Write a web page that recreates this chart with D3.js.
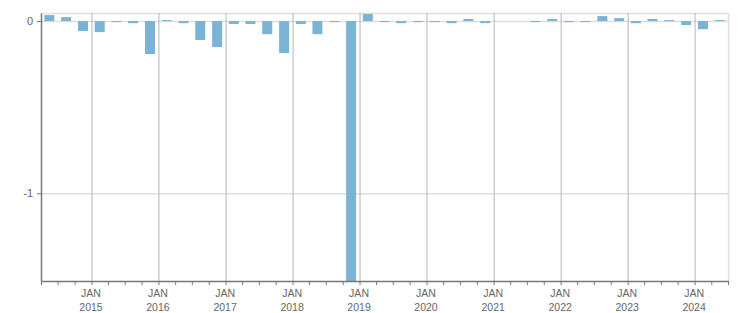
<!DOCTYPE html>
<html>
<head>
<meta charset="utf-8">
<script src="https://cdn.jsdelivr.net/npm/d3@7"></script>
<style>
  html, body { margin: 0; padding: 0; background: #fff; }
  svg { display: block; }
  text { font-family: Tahoma, "Liberation Sans", Arial, sans-serif; }
</style>
</head>
<body>
<svg id="chart" width="751" height="313"></svg>
<script>
// ---- data ----
const quarterStarts = [
  "2014-04","2014-07","2014-10",
  "2015-01","2015-04","2015-07","2015-10",
  "2016-01","2016-04","2016-07","2016-10",
  "2017-01","2017-04","2017-07","2017-10",
  "2018-01","2018-04","2018-07","2018-10",
  "2019-01","2019-04","2019-07","2019-10",
  "2020-01","2020-04","2020-07","2020-10",
  "2021-01","2021-04","2021-07","2021-10",
  "2022-01","2022-04","2022-07","2022-10",
  "2023-01","2023-04","2023-07","2023-10",
  "2024-01","2024-04"
];
const values = [
  0.035, 0.023, -0.058,
  -0.064, -0.004, -0.012, -0.192,
  0.006, -0.012, -0.110, -0.151,
  -0.017, -0.017, -0.076, -0.186,
  -0.017, -0.076, -0.004, -1.60,
  0.041, -0.004, -0.012, -0.005,
  -0.004, -0.012, 0.012, -0.012,
  0, 0, -0.004, 0.012,
  -0.004, -0.004, 0.029, 0.017,
  -0.012, 0.012, 0.006, -0.023,
  -0.047, 0.006
];
const yTickValues = [0, -1];
const yTickLabels = ["0", "-1"];
const yearTickLabels = ["2015","2016","2017","2018","2019","2020","2021","2022","2023","2024"];
const monthLabel = "JAN";

// ---- layout ----
const svg = d3.select("#chart");
const mLeft = 41, mRight = 728, mTop = 13, mBottom = 281;
const parse = d3.timeParse("%Y-%m");
const x = d3.scaleTime()
  .domain([new Date(2014, 3, 1), new Date(2024, 6, 1)])
  .range([mLeft, mRight]);
const y = d3.scaleLinear().domain([-1.51, 0.047]).range([mBottom, mTop]);

const textColor = "#666";
const axisColor = "#777";

// clip
svg.append("defs").append("clipPath").attr("id", "plot")
  .append("rect").attr("x", mLeft).attr("y", mTop).attr("width", mRight - mLeft).attr("height", mBottom - mTop);

// horizontal gridlines
svg.append("g")
  .attr("transform", `translate(${mLeft},0)`)
  .call(d3.axisLeft(y).tickValues(yTickValues).tickSize(-(mRight - mLeft)).tickFormat(""))
  .call(g => g.select(".domain").remove())
  .call(g => g.selectAll("line").attr("stroke", "#dedede").attr("stroke-width", 1.5));

// top border & right border
svg.append("line").attr("x1", mLeft).attr("x2", mRight).attr("y1", mTop + 0.5).attr("y2", mTop + 0.5)
  .attr("stroke", "#dedede").attr("stroke-width", 1.5);
svg.append("line").attr("x1", mRight + 0.5).attr("x2", mRight + 0.5).attr("y1", mTop).attr("y2", mBottom)
  .attr("stroke", "#dedede").attr("stroke-width", 1.5);

// vertical year gridlines
const yearDates = yearTickLabels.map(yy => new Date(+yy, 0, 1));
svg.append("g")
  .attr("transform", `translate(0,${mBottom})`)
  .call(d3.axisBottom(x).tickValues(yearDates).tickSize(-(mBottom - mTop)).tickFormat(""))
  .call(g => g.select(".domain").remove())
  .call(g => g.selectAll("line").attr("stroke", "#b5b5b5").attr("stroke-width", 1));

// bars
const qStart = quarterStarts.map(parse);
const barW = 10;
svg.append("g").attr("clip-path", "url(#plot)")
  .selectAll("rect").data(values).join("rect")
  .attr("x", (d, i) => {
    const s = qStart[i], e = d3.timeMonth.offset(s, 3);
    return (x(s) + x(e)) / 2 - barW / 2;
  })
  .attr("width", barW)
  .attr("y", d => y(Math.max(0, d)))
  .attr("height", d => d === 0 ? 0 : Math.max(1, Math.abs(y(d) - y(0))))
  .attr("fill", "#7bb3d5");

// bottom axis with quarterly minor ticks
const quarterTicks = d3.timeMonth.every(3).range(new Date(2014, 3, 1), new Date(2024, 6, 2));
svg.append("g")
  .attr("transform", `translate(0,${mBottom})`)
  .call(d3.axisBottom(x).tickValues(quarterTicks).tickSize(4).tickSizeOuter(0).tickFormat(""))
  .call(g => g.select(".domain").attr("stroke", axisColor).attr("stroke-width", 1.5))
  .call(g => g.selectAll(".tick line").attr("stroke", axisColor));

// year labels
const labelAxis = svg.append("g")
  .attr("transform", `translate(0,${mBottom})`)
  .call(d3.axisBottom(x).tickValues(yearDates).tickSize(0).tickFormat(""));
labelAxis.select(".domain").remove();
labelAxis.selectAll(".tick").each(function(d, i) {
  const t = d3.select(this).append("text")
    .attr("fill", textColor).attr("font-size", "10.5px").attr("text-anchor", "middle");
  t.append("tspan").attr("x", -1).attr("y", 16).text(monthLabel);
  t.append("tspan").attr("x", -1).attr("y", 30).text(yearTickLabels[i]);
});

// left axis
svg.append("g")
  .attr("transform", `translate(${mLeft},0)`)
  .call(d3.axisLeft(y).tickValues(yTickValues).tickSize(4).tickSizeOuter(0).tickPadding(4)
    .tickFormat((d, i) => yTickLabels[i]))
  .call(g => g.select(".domain").attr("stroke", axisColor).attr("stroke-width", 1.5))
  .call(g => g.selectAll(".tick line").attr("stroke", axisColor))
  .call(g => g.selectAll(".tick text").attr("fill", textColor).attr("font-size", "11px")
    .attr("font-family", "Tahoma, 'Liberation Sans', Arial, sans-serif"));
</script>
</body>
</html>
